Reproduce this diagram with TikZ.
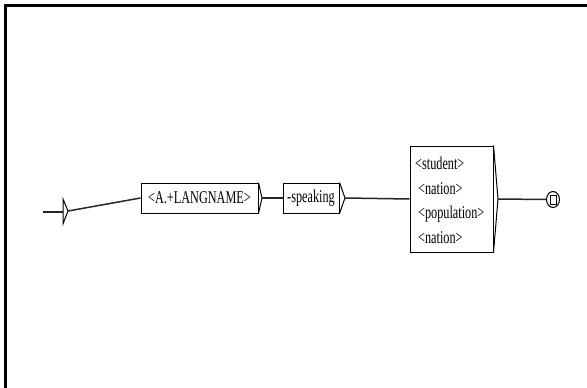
\documentclass[tikz,border=0pt]{standalone}
\usepackage{fontspec}
\setmainfont{Liberation Serif}
\newfontfamily\boxfont[FakeStretch=0.68]{Liberation Serif}
\usetikzlibrary{shapes.geometric}
\begin{document}
\begin{tikzpicture}[x=1pt,y=-1pt,
  box/.style={draw=black,line width=1pt,rectangle,inner sep=0pt,fill=white},
  lbl/.style={font=\boxfont\fontsize{18}{19}\selectfont,inner sep=0pt},
  conn/.style={draw=black!85,line width=1.5pt},
  chev/.style={draw=black,line width=1pt}]
\useasboundingbox (0,0) rectangle (587,388);
\fill[white] (0,0) rectangle (587,388);
% frame
\draw[line width=2.5pt] (5.5,388) -- (5.5,5.5) -- (587,5.5);
% initial arrow
\coordinate (s0) at (43,212);
\coordinate (s1) at (63,212);
\coordinate (tip0) at (68,211);
\draw[conn] (s0) -- (s1);
\draw[line width=1pt] (63,199) .. controls (65,205) .. (tip0) .. controls (65,217) .. (63,224) -- cycle;
% boxes
\node[box,minimum width=117pt,minimum height=30pt] (b1) at (199.5,198) {};
\node[lbl] (t1) at (b1.center) {<A.+LANGNAME>};
\coordinate (c1) at (262,198);
\draw[chev] (b1.north east) -- (c1) -- (b1.south east);
\node[box,minimum width=56pt,minimum height=30pt] (b2) at (311,198) {};
\node[lbl] (t2) at (b2.center) {-speaking};
\coordinate (c2) at (345,198);
\draw[chev] (b2.north east) -- (c2) -- (b2.south east);
\node[box,minimum width=83pt,minimum height=106pt] (b3) at (451.5,199) {};
\coordinate (c3) at (498,199);
\draw[chev] (b3.north east) -- (c3) -- (b3.south east);
\node[lbl,anchor=west] (l1) at (415,163) {<student>};
\node[lbl,anchor=west] (l2) at (418,189) {<nation>};
\node[lbl,anchor=west] (l3) at (418,214) {<population>};
\node[lbl,anchor=west] (l4) at (418,238) {<nation>};
% final state
\node[draw=black,line width=1pt,ellipse,minimum width=13pt,minimum height=16pt,inner sep=0pt] (f) at (553,199.5) {};
\node[draw=black,line width=1pt,rectangle,minimum width=6pt,minimum height=9pt,inner sep=0pt] (fs) at (f.center) {};
% connectors
\draw[conn] (tip0) -- (b1.west);
\draw[conn] (c1) -- (b2.west);
\draw[conn] (c2) -- (b3.west);
\draw[conn] (c3) -- (f.west);
\end{tikzpicture}
\end{document}
